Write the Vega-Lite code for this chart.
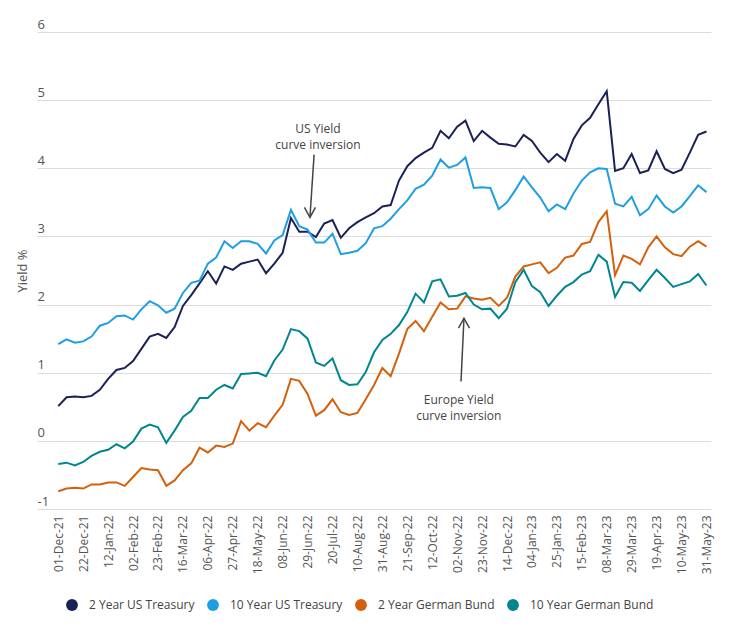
{
  "$schema": "https://vega.github.io/schema/vega-lite/v6.json",
  "width": 674,
  "height": 477,
  "autosize": {"type": "none"},
  "padding": {"left": 37, "top": 32, "right": 26, "bottom": 124},
  "background": "white",
  "config": {
    "font": "Open Sans",
    "view": {"stroke": null}
  },
  "datasets": {
    "yields": [
      {"date": "2021-12-01", "us2": 0.51, "us10": 1.42, "de2": -0.74, "de10": -0.34},
      {"date": "2021-12-08", "us2": 0.64, "us10": 1.49, "de2": -0.70, "de10": -0.32},
      {"date": "2021-12-15", "us2": 0.65, "us10": 1.44, "de2": -0.69, "de10": -0.36},
      {"date": "2021-12-22", "us2": 0.64, "us10": 1.46, "de2": -0.70, "de10": -0.31},
      {"date": "2021-12-29", "us2": 0.66, "us10": 1.53, "de2": -0.64, "de10": -0.22},
      {"date": "2022-01-05", "us2": 0.75, "us10": 1.69, "de2": -0.64, "de10": -0.16},
      {"date": "2022-01-12", "us2": 0.91, "us10": 1.73, "de2": -0.61, "de10": -0.13},
      {"date": "2022-01-19", "us2": 1.04, "us10": 1.83, "de2": -0.61, "de10": -0.05},
      {"date": "2022-01-26", "us2": 1.07, "us10": 1.84, "de2": -0.66, "de10": -0.11},
      {"date": "2022-02-02", "us2": 1.17, "us10": 1.78, "de2": -0.53, "de10": -0.01},
      {"date": "2022-02-09", "us2": 1.35, "us10": 1.93, "de2": -0.40, "de10": 0.18},
      {"date": "2022-02-16", "us2": 1.53, "us10": 2.05, "de2": -0.42, "de10": 0.24},
      {"date": "2022-02-23", "us2": 1.57, "us10": 1.99, "de2": -0.43, "de10": 0.20},
      {"date": "2022-03-02", "us2": 1.51, "us10": 1.88, "de2": -0.66, "de10": -0.03},
      {"date": "2022-03-09", "us2": 1.67, "us10": 1.94, "de2": -0.58, "de10": 0.15},
      {"date": "2022-03-16", "us2": 1.98, "us10": 2.17, "de2": -0.43, "de10": 0.35},
      {"date": "2022-03-23", "us2": 2.14, "us10": 2.32, "de2": -0.33, "de10": 0.44},
      {"date": "2022-03-30", "us2": 2.31, "us10": 2.35, "de2": -0.10, "de10": 0.63},
      {"date": "2022-04-06", "us2": 2.49, "us10": 2.60, "de2": -0.17, "de10": 0.63},
      {"date": "2022-04-13", "us2": 2.31, "us10": 2.69, "de2": -0.07, "de10": 0.75},
      {"date": "2022-04-20", "us2": 2.56, "us10": 2.93, "de2": -0.09, "de10": 0.82},
      {"date": "2022-04-27", "us2": 2.51, "us10": 2.83, "de2": -0.04, "de10": 0.77},
      {"date": "2022-05-04", "us2": 2.60, "us10": 2.93, "de2": 0.29, "de10": 0.98},
      {"date": "2022-05-11", "us2": 2.63, "us10": 2.93, "de2": 0.15, "de10": 0.99},
      {"date": "2022-05-18", "us2": 2.66, "us10": 2.89, "de2": 0.26, "de10": 1.00},
      {"date": "2022-05-25", "us2": 2.46, "us10": 2.75, "de2": 0.20, "de10": 0.95},
      {"date": "2022-06-01", "us2": 2.60, "us10": 2.94, "de2": 0.37, "de10": 1.18},
      {"date": "2022-06-08", "us2": 2.76, "us10": 3.02, "de2": 0.53, "de10": 1.34},
      {"date": "2022-06-15", "us2": 3.27, "us10": 3.39, "de2": 0.91, "de10": 1.64},
      {"date": "2022-06-22", "us2": 3.07, "us10": 3.15, "de2": 0.88, "de10": 1.61},
      {"date": "2022-06-29", "us2": 3.07, "us10": 3.10, "de2": 0.69, "de10": 1.50},
      {"date": "2022-07-06", "us2": 2.99, "us10": 2.91, "de2": 0.37, "de10": 1.15},
      {"date": "2022-07-13", "us2": 3.19, "us10": 2.91, "de2": 0.45, "de10": 1.10},
      {"date": "2022-07-20", "us2": 3.24, "us10": 3.04, "de2": 0.61, "de10": 1.21},
      {"date": "2022-07-27", "us2": 2.98, "us10": 2.74, "de2": 0.42, "de10": 0.89},
      {"date": "2022-08-03", "us2": 3.12, "us10": 2.76, "de2": 0.38, "de10": 0.82},
      {"date": "2022-08-10", "us2": 3.21, "us10": 2.79, "de2": 0.41, "de10": 0.83},
      {"date": "2022-08-17", "us2": 3.28, "us10": 2.90, "de2": 0.61, "de10": 1.01},
      {"date": "2022-08-24", "us2": 3.34, "us10": 3.12, "de2": 0.82, "de10": 1.30},
      {"date": "2022-08-31", "us2": 3.44, "us10": 3.15, "de2": 1.07, "de10": 1.48},
      {"date": "2022-09-07", "us2": 3.46, "us10": 3.26, "de2": 0.95, "de10": 1.57},
      {"date": "2022-09-14", "us2": 3.82, "us10": 3.40, "de2": 1.28, "de10": 1.70},
      {"date": "2022-09-21", "us2": 4.03, "us10": 3.53, "de2": 1.64, "de10": 1.89},
      {"date": "2022-09-28", "us2": 4.15, "us10": 3.70, "de2": 1.76, "de10": 2.16},
      {"date": "2022-10-05", "us2": 4.23, "us10": 3.76, "de2": 1.61, "de10": 2.03},
      {"date": "2022-10-12", "us2": 4.30, "us10": 3.89, "de2": 1.82, "de10": 2.34},
      {"date": "2022-10-19", "us2": 4.55, "us10": 4.13, "de2": 2.03, "de10": 2.37},
      {"date": "2022-10-26", "us2": 4.44, "us10": 4.01, "de2": 1.93, "de10": 2.12},
      {"date": "2022-11-02", "us2": 4.61, "us10": 4.05, "de2": 1.94, "de10": 2.13},
      {"date": "2022-11-09", "us2": 4.70, "us10": 4.16, "de2": 2.12, "de10": 2.17},
      {"date": "2022-11-16", "us2": 4.40, "us10": 3.71, "de2": 2.09, "de10": 2.00},
      {"date": "2022-11-23", "us2": 4.55, "us10": 3.72, "de2": 2.07, "de10": 1.93},
      {"date": "2022-11-30", "us2": 4.45, "us10": 3.71, "de2": 2.10, "de10": 1.94},
      {"date": "2022-12-07", "us2": 4.36, "us10": 3.40, "de2": 1.98, "de10": 1.80},
      {"date": "2022-12-14", "us2": 4.35, "us10": 3.50, "de2": 2.10, "de10": 1.94},
      {"date": "2022-12-21", "us2": 4.32, "us10": 3.68, "de2": 2.41, "de10": 2.33},
      {"date": "2022-12-28", "us2": 4.49, "us10": 3.88, "de2": 2.56, "de10": 2.51},
      {"date": "2023-01-04", "us2": 4.40, "us10": 3.72, "de2": 2.59, "de10": 2.27},
      {"date": "2023-01-11", "us2": 4.23, "us10": 3.57, "de2": 2.62, "de10": 2.18},
      {"date": "2023-01-18", "us2": 4.09, "us10": 3.37, "de2": 2.46, "de10": 1.98},
      {"date": "2023-01-25", "us2": 4.21, "us10": 3.47, "de2": 2.54, "de10": 2.13},
      {"date": "2023-02-01", "us2": 4.11, "us10": 3.40, "de2": 2.69, "de10": 2.26},
      {"date": "2023-02-08", "us2": 4.43, "us10": 3.63, "de2": 2.72, "de10": 2.33},
      {"date": "2023-02-15", "us2": 4.63, "us10": 3.82, "de2": 2.89, "de10": 2.44},
      {"date": "2023-02-22", "us2": 4.74, "us10": 3.94, "de2": 2.92, "de10": 2.49},
      {"date": "2023-03-01", "us2": 4.94, "us10": 4.00, "de2": 3.21, "de10": 2.73},
      {"date": "2023-03-08", "us2": 5.13, "us10": 3.99, "de2": 3.37, "de10": 2.63},
      {"date": "2023-03-15", "us2": 3.96, "us10": 3.48, "de2": 2.43, "de10": 2.11},
      {"date": "2023-03-22", "us2": 4.00, "us10": 3.44, "de2": 2.72, "de10": 2.33},
      {"date": "2023-03-29", "us2": 4.21, "us10": 3.58, "de2": 2.67, "de10": 2.32},
      {"date": "2023-04-05", "us2": 3.93, "us10": 3.31, "de2": 2.59, "de10": 2.20},
      {"date": "2023-04-12", "us2": 3.97, "us10": 3.40, "de2": 2.84, "de10": 2.36},
      {"date": "2023-04-19", "us2": 4.25, "us10": 3.60, "de2": 3.00, "de10": 2.51},
      {"date": "2023-04-26", "us2": 3.99, "us10": 3.44, "de2": 2.84, "de10": 2.39},
      {"date": "2023-05-03", "us2": 3.93, "us10": 3.35, "de2": 2.74, "de10": 2.26},
      {"date": "2023-05-10", "us2": 3.98, "us10": 3.44, "de2": 2.71, "de10": 2.30},
      {"date": "2023-05-17", "us2": 4.23, "us10": 3.59, "de2": 2.85, "de10": 2.34},
      {"date": "2023-05-24", "us2": 4.49, "us10": 3.75, "de2": 2.93, "de10": 2.45},
      {"date": "2023-05-31", "us2": 4.54, "us10": 3.65, "de2": 2.85, "de10": 2.28}
    ],
    "notes": [
      {"date": "2022-07-07T18:00:00Z", "yield": 4.57, "label": "US Yield\ncurve inversion"},
      {"date": "2022-11-03T10:00:00Z", "yield": 0.60, "label": "Europe Yield\ncurve inversion"}
    ],
    "arrows": [
      {"xa": "2022-07-04T12:00:00Z", "ya": 4.20, "xb": "2022-07-01T00:00:00Z", "yb": 3.28},
      {"xa": "2022-11-05T06:00:00Z", "ya": 0.87, "xb": "2022-11-07T18:00:00Z", "yb": 1.80}
    ],
    "heads": [
      {"date": "2022-07-01T00:00:00Z", "yield": 3.28, "dir": "down"},
      {"date": "2022-11-07T18:00:00Z", "yield": 1.80, "dir": "up"}
    ]
  },
  "layer": [
    {
      "data": {"name": "yields"},
      "transform": [{"fold": ["us2", "us10", "de2", "de10"], "as": ["series", "yield"]}],
      "mark": {"type": "line", "strokeWidth": 2},
      "encoding": {
        "x": {
          "field": "date",
          "type": "temporal",
          "scale": {
            "type": "utc",
            "domain": [
              {"year": 2021, "month": 11, "date": 13, "hours": 2, "utc": true},
              {"year": 2023, "month": 6, "date": 3, "hours": 20, "utc": true}
            ]
          },
          "axis": {
            "title": null,
            "tickCount": 200,
            "values": [
              {"year": 2021, "month": 12, "date": 1, "utc": true},
              {"year": 2021, "month": 12, "date": 22, "utc": true},
              {"year": 2022, "month": 1, "date": 12, "utc": true},
              {"year": 2022, "month": 2, "date": 2, "utc": true},
              {"year": 2022, "month": 2, "date": 23, "utc": true},
              {"year": 2022, "month": 3, "date": 16, "utc": true},
              {"year": 2022, "month": 4, "date": 6, "utc": true},
              {"year": 2022, "month": 4, "date": 27, "utc": true},
              {"year": 2022, "month": 5, "date": 18, "utc": true},
              {"year": 2022, "month": 6, "date": 8, "utc": true},
              {"year": 2022, "month": 6, "date": 29, "utc": true},
              {"year": 2022, "month": 7, "date": 20, "utc": true},
              {"year": 2022, "month": 8, "date": 10, "utc": true},
              {"year": 2022, "month": 8, "date": 31, "utc": true},
              {"year": 2022, "month": 9, "date": 21, "utc": true},
              {"year": 2022, "month": 10, "date": 12, "utc": true},
              {"year": 2022, "month": 11, "date": 2, "utc": true},
              {"year": 2022, "month": 11, "date": 23, "utc": true},
              {"year": 2022, "month": 12, "date": 14, "utc": true},
              {"year": 2023, "month": 1, "date": 4, "utc": true},
              {"year": 2023, "month": 1, "date": 25, "utc": true},
              {"year": 2023, "month": 2, "date": 15, "utc": true},
              {"year": 2023, "month": 3, "date": 8, "utc": true},
              {"year": 2023, "month": 3, "date": 29, "utc": true},
              {"year": 2023, "month": 4, "date": 19, "utc": true},
              {"year": 2023, "month": 5, "date": 10, "utc": true},
              {"year": 2023, "month": 5, "date": 31, "utc": true}
            ],
            "format": "%d-%b-%y",
            "labelAngle": -90,
            "labelFontSize": 12,
            "labelColor": "#555555",
            "labelFlush": false,
            "labelOverlap": false,
            "ticks": false,
            "tickSize": 0,
            "domain": false,
            "grid": false,
            "labelPadding": 6
          }
        },
        "y": {
          "field": "yield",
          "type": "quantitative",
          "scale": {"domain": [-1, 6], "nice": false, "zero": false},
          "axis": {
            "title": "Yield %",
            "tickCount": 20,
            "values": [-1, 0, 1, 2, 3, 4, 5, 6],
            "labelExpr": "datum.value < 0 ? '-' + abs(datum.value) : '' + datum.value",
            "grid": true,
            "gridColor": "#dcdcdc",
            "gridWidth": 1,
            "domain": false,
            "ticks": false,
            "tickSize": 0,
            "labelAlign": "left",
            "labelBaseline": "alphabetic",
            "labelPadding": 0,
            "labelOffset": -4,
            "labelFontSize": 13,
            "labelColor": "#555555",
            "labelOverlap": false,
            "labelFlush": false,
            "titleFontSize": 13,
            "titleFontWeight": "normal",
            "titleColor": "#555555",
            "titleX": -15,
            "titleY": 238.5,
            "titleAngle": -90,
            "titleAlign": "center",
            "titleBaseline": "middle"
          }
        },
        "color": {
          "field": "series",
          "type": "nominal",
          "scale": {
            "domain": ["us2", "us10", "de2", "de10"],
            "range": ["#1a2155", "#1e9fe2", "#d4600c", "#00868f"]
          },
          "legend": {
            "orient": "none",
            "legendX": 29,
            "legendY": 567,
            "direction": "horizontal",
            "title": null,
            "symbolType": "circle",
            "symbolSize": 140,
            "symbolStrokeWidth": 0,
            "symbolOpacity": 1,
            "labelFontSize": 12,
            "labelColor": "#444444",
            "labelOffset": 11,
            "columnPadding": 12,
            "labelExpr": "{'us2': '2 Year US Treasury', 'us10': '10 Year US Treasury', 'de2': '2 Year German Bund', 'de10': '10 Year German Bund'}[datum.value]",
            "encode": {
              "symbols": {
                "update": {
                  "fill": {"scale": "color", "field": "value"},
                  "fillOpacity": {"value": 1},
                  "stroke": {"value": "transparent"}
                }
              }
            }
          }
        }
      }
    },
    {
      "data": {"name": "notes"},
      "mark": {"type": "text", "lineBreak": "\n", "fontSize": 12, "color": "#444444", "align": "center", "baseline": "middle", "lineHeight": 16},
      "encoding": {
        "x": {"field": "date", "type": "temporal"},
        "y": {"field": "yield", "type": "quantitative"},
        "text": {"field": "label"}
      }
    },
    {
      "data": {"name": "arrows"},
      "mark": {"type": "rule", "strokeWidth": 1.5, "color": "#444444"},
      "encoding": {
        "x": {"field": "xa", "type": "temporal"},
        "x2": {"field": "xb"},
        "y": {"field": "ya", "type": "quantitative"},
        "y2": {"field": "yb"}
      }
    },
    {
      "data": {"name": "heads"},
      "mark": {"type": "point", "filled": false, "strokeWidth": 1.5, "color": "#444444", "opacity": 1, "size": 400},
      "encoding": {
        "x": {"field": "date", "type": "temporal"},
        "y": {"field": "yield", "type": "quantitative"},
        "shape": {
          "field": "dir",
          "type": "nominal",
          "scale": {"domain": ["down", "up"], "range": ["M -0.55 -1 L 0 0 L 0.55 -1", "M -0.55 1 L 0 0 L 0.55 1"]},
          "legend": null
        }
      }
    }
  ]
}
